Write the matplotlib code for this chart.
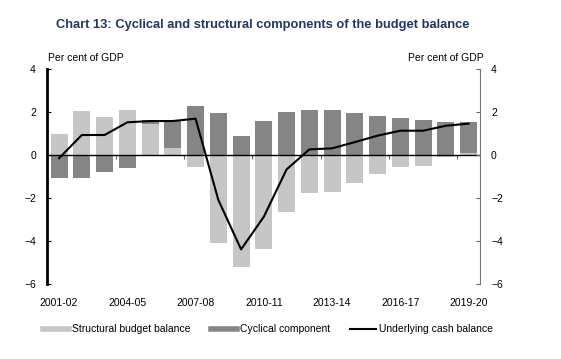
import matplotlib.pyplot as plt
import numpy as np
from matplotlib.lines import Line2D

plt.rcParams["font.family"] = ["Liberation Sans", "DejaVu Sans"]

years = ["2001-02", "2002-03", "2003-04", "2004-05", "2005-06", "2006-07", "2007-08",
         "2008-09", "2009-10", "2010-11", "2011-12", "2012-13", "2013-14", "2014-15",
         "2015-16", "2016-17", "2017-18", "2018-19", "2019-20"]
structural = [0.98, 2.05, 1.75, 2.09, 1.45, 0.34, -0.54, -4.08, -5.22, -4.39,
              -2.64, -1.78, -1.74, -1.32, -0.90, -0.54, -0.50, -0.11, 0.11]
cyclical = [-1.05, -1.05, -0.78, -0.59, 0.17, 1.27, 2.28, 1.97, 0.88, 1.58,
            2.02, 2.09, 2.09, 1.97, 1.81, 1.74, 1.61, 1.55, 1.44]
underlying = [-0.15, 0.93, 0.93, 1.52, 1.58, 1.58, 1.69, -2.09, -4.39, -2.87,
              -0.67, 0.26, 0.31, 0.60, 0.90, 1.13, 1.13, 1.36, 1.46]

light = "#c6c6c6"
dark = "#858585"

x = np.arange(len(years))
s = np.array(structural)
c = np.array(cyclical)
# cyclical sits on top of structural when both have the same sign
c_bottom = np.where(np.sign(s) == np.sign(c), s, 0)

fig = plt.figure(figsize=(5.61, 3.59), dpi=100)
ax = fig.add_axes([0.0838, 0.2089, 0.7718, 0.5989])

ax.bar(x, s, width=0.75, color=light, zorder=2)
ax.bar(x, c, width=0.75, bottom=c_bottom, color=dark, zorder=2)
ax.plot(x, underlying, color="black", lw=1.5, zorder=4)
ax.axhline(0, color="black", lw=1, zorder=3)

ax.set_xlim(-0.53, 18.5)
ax.set_ylim(-6, 4)
ax.set_yticks([-6, -4, -2, 0, 2, 4])
ax.tick_params(axis="y", direction="in", length=3, labelsize=7.5, pad=8)

ax.set_xticks(x[::3])
ax.set_xticklabels(years[::3])
ax.tick_params(axis="x", length=0, labelsize=7.5, pad=10)

for side in ["top", "bottom", "right"]:
    ax.spines[side].set_visible(False)
ax.spines["left"].set_linewidth(2)

# boundary ticks on the zero line
sec = ax.secondary_xaxis(0.6)
sec.set_xticks([2.5, 5.5, 8.5, 11.5, 14.5, 17.5])
sec.set_xticklabels([])
sec.tick_params(axis="x", direction="in", length=3, color="#666666",
                labelbottom=False, labeltop=False)
sec.spines["bottom"].set_visible(False)
sec.spines["top"].set_visible(False)

ax2 = ax.twinx()
ax2.set_ylim(-6, 4)
ax2.set_yticks([-6, -4, -2, 0, 2, 4])
ax2.tick_params(axis="y", direction="in", length=3, labelsize=7.5, pad=8, color="#666666")
for side in ["top", "bottom", "left"]:
    ax2.spines[side].set_visible(False)
ax2.spines["right"].set_color("#777777")
ax2.spines["right"].set_linewidth(0.8)

fig.text(0.086, 0.825, "Per cent of GDP", fontsize=7.5, ha="left", va="bottom")
fig.text(0.862, 0.825, "Per cent of GDP", fontsize=7.5, ha="right", va="bottom")
fig.text(0.469, 0.93, "Chart 13: Cyclical and structural components of the budget balance",
         fontsize=9.3, fontweight="bold", color="#1f3864", ha="center", va="center")

handles = [Line2D([], [], color=light, lw=4),
           Line2D([], [], color=dark, lw=4),
           Line2D([], [], color="black", lw=1.5)]
labels = ["Structural budget balance", "Cyclical component", "Underlying cash balance"]
fig.legend(handles, labels, loc="center", bbox_to_anchor=(0.478, 0.083), ncol=3,
           frameon=False, fontsize=7.5, handlelength=2.5, handletextpad=0.3,
           columnspacing=1.9)

fig.savefig("out.png", dpi=100)
